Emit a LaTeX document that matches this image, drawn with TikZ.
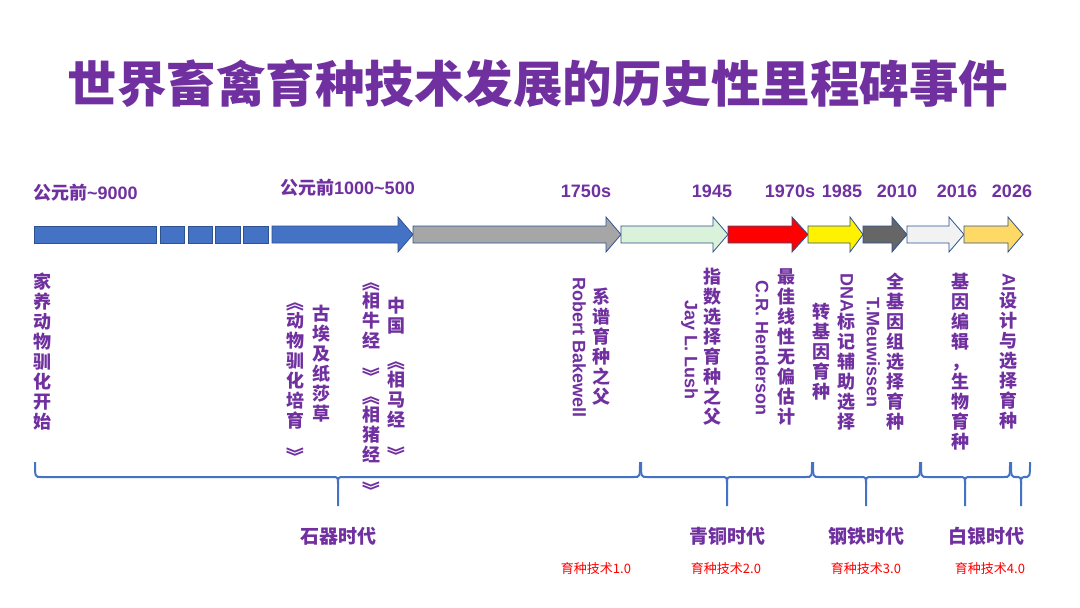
\documentclass[tikz,border=0pt]{standalone}
\usepackage{fontspec}
\setmainfont{Noto Sans CJK SC}
\newfontfamily\lat{Liberation Sans}
\usepackage{graphicx}
\definecolor{pur}{HTML}{7030A0}
\definecolor{bl}{HTML}{4472C4}
\definecolor{ol}{HTML}{2F528F}
\definecolor{gold}{HTML}{FFD966}
\newcommand\harrow[4]{\draw[ol,line width=0.8pt,fill=#4] (#1,226) -- (#3,226) -- (#3,217) -- (#2,234.5) -- (#3,252) -- (#3,243) -- (#1,243) -- cycle;}
\newcommand\rt[1]{\rotatebox{-90}{#1}}
\newcommand\tl{{\lat\textasciitilde}}
\newcommand\ebrace[3]{\draw[bl,line width=2pt] (#1,462) .. controls (#1,477) .. (#1+6,477) -- (#3-6,477) .. controls (#3,477) .. (#3,484) -- (#3,506);
\draw[bl,line width=2pt] (#2,462) .. controls (#2,477) .. (#2-6,477) -- (#3+6,477) .. controls (#3,477) .. (#3,484);}
\begin{document}
\begin{tikzpicture}[x=1pt,y=-1pt,
  vt/.style={text=pur,font=\fontsize{18}{20}\selectfont\bfseries,align=center,inner sep=0pt,anchor=north east},
  yr/.style={text=pur,font=\fontsize{18}{20}\selectfont\bfseries,inner sep=0pt},
  age/.style={text=pur,font=\fontsize{19}{21}\selectfont\bfseries,inner sep=0pt},
  tech/.style={text=red,font=\fontsize{13}{15}\selectfont,inner sep=0pt}]
\useasboundingbox[fill=white] (0,0) rectangle (1080,608);
\node[text=pur,font=\fontsize{49.5}{54}\selectfont\bfseries] (title) at (538,83) {世界畜禽育种技术发展的历史性里程碑事件};
% year labels
\node[yr,anchor=west] (y1) at (33,193) {公元前\tl{\lat 9000}};
\node[yr,anchor=west] (y2) at (280,188) {公元前{\lat 1000}\tl{\lat 500}};
\node[yr] (y3) at (586,191) {\lat 1750s};
\node[yr] (y4) at (712,191) {\lat 1945};
\node[yr] (y5) at (790,191) {\lat 1970s};
\node[yr] (y6) at (842,191) {\lat 1985};
\node[yr] (y7) at (897,191) {\lat 2010};
\node[yr] (y8) at (957,191) {\lat 2016};
\node[yr] (y9) at (1012,191) {\lat 2026};
% timeline
\draw[ol,line width=0.8pt,fill=bl] (34,226) rectangle (156,243);
\draw[ol,line width=0.8pt,fill=bl] (160,226) rectangle (184,243);
\draw[ol,line width=0.8pt,fill=bl] (188,226) rectangle (212,243);
\draw[ol,line width=0.8pt,fill=bl] (215,226) rectangle (240,243);
\draw[ol,line width=0.8pt,fill=bl] (243,226) rectangle (268,243);
\harrow{272}{413}{398}{bl}
\harrow{413}{621}{606}{black!35}
\harrow{621}{728}{713}{green!10!white!95!black}
\harrow{728}{808}{792}{red}
\harrow{808}{863}{850}{yellow}
\harrow{863}{907}{892}{black!60}
\harrow{907}{964}{949}{black!5}
\harrow{964}{1023}{1008}{gold}
% vertical labels
\node[vt] (e1) at (52,273) {家\\养\\动\\物\\驯\\化\\开\\始};
\node[vt] (e2a) at (331,305) {古\\埃\\及\\纸\\莎\\草};
\node[vt] (e2b) at (305,293) {\rt{《}\\动\\物\\驯\\化\\培\\育\\\rt{》}};
\node[vt] (e3a) at (406,297) {中\\国\\\rt{《}\\相\\马\\经\\\rt{》}};
\node[vt] (e3b) at (381,273) {\rt{《}\\相\\牛\\经\\\rt{》}\\\rt{《}\\相\\猪\\经\\\rt{》}};
\node[vt] (e4a) at (611,288) {系\\谱\\育\\种\\之\\父};
\node[vt] (e4b) at (586,277) {\rt{\lat Robert Bakewell}};
\node[vt] (e5a) at (722,268) {指\\数\\选\\择\\育\\种\\之\\父};
\node[vt] (e5b) at (698,300) {\rt{\lat Jay L. Lush}};
\node[vt] (e6a) at (796,268) {最\\佳\\线\\性\\无\\偏\\估\\计};
\node[vt] (e6b) at (769,280) {\rt{\lat C.R. Henderson}};
\node[vt] (e7a) at (856,273) {\rt{\lat DNA}\\标\\记\\辅\\助\\选\\择};
\node[vt] (e7b) at (831,303) {转\\基\\因\\育\\种};
\node[vt] (e8a) at (905,273) {全\\基\\因\\组\\选\\择\\育\\种};
\node[vt] (e8b) at (880,297) {\rt{\lat T.Meuwissen}};
\node[vt] (e9) at (970,273) {基\\因\\编\\辑\\，\\生\\物\\育\\种};
\node[vt] (e10) at (1018,273) {\rt{\lat AI}\\设\\计\\与\\选\\择\\育\\种};
% braces
\ebrace{35}{640}{338}
\ebrace{641}{812}{727}
\ebrace{813}{920}{866}
\ebrace{921}{1010}{965}
\ebrace{1011}{1030}{1021}
% ages
\node[age] (a1) at (338,536) {石器时代};
\node[age] (a2) at (727,536) {青铜时代};
\node[age] (a3) at (866,536) {钢铁时代};
\node[age] (a4) at (986,536) {白银时代};
\node[tech] (t1) at (596,569) {育种技术1.0};
\node[tech] (t2) at (726,569) {育种技术2.0};
\node[tech] (t3) at (866,569) {育种技术3.0};
\node[tech] (t4) at (990,569) {育种技术4.0};
\end{tikzpicture}
\end{document}
